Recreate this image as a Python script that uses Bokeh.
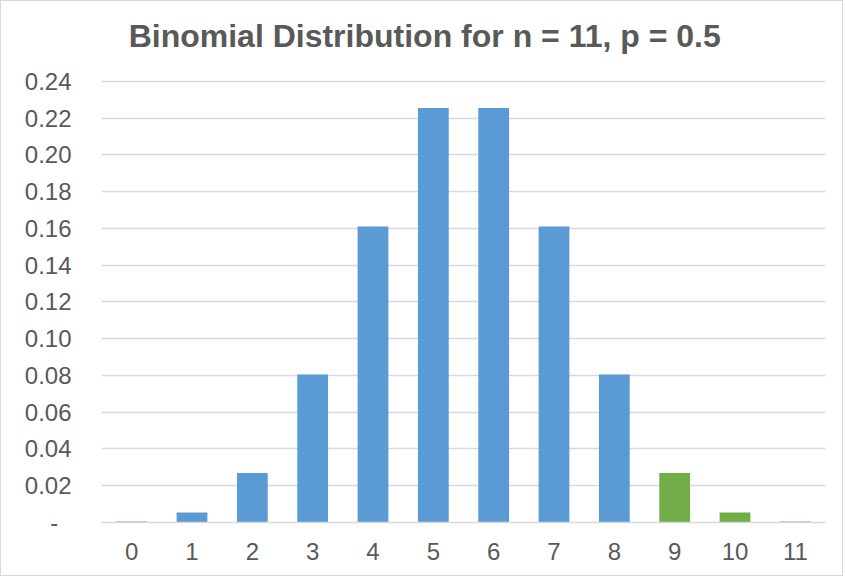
from bokeh.plotting import figure
from bokeh.models import FactorRange, Range1d, FixedTicker, CustomJSTickFormatter, ColumnDataSource, Label
from bokeh.embed import file_html
from bokeh.resources import INLINE

# data
categories = ["0", "1", "2", "3", "4", "5", "6", "7", "8", "9", "10", "11"]
probabilities = [0.0005, 0.0054, 0.0269, 0.0806, 0.1611, 0.2256,
                 0.2256, 0.1611, 0.0806, 0.0269, 0.0054, 0.0005]
groups = ["below", "below", "below", "below", "below", "below",
          "below", "below", "below", "tail", "tail", "tail"]
y_ticks = [0.0, 0.02, 0.04, 0.06, 0.08, 0.10, 0.12, 0.14, 0.16, 0.18, 0.20, 0.22, 0.24]
title_text = "Binomial Distribution for n = 11, p = 0.5"

palette = {"below": "#5B9BD5", "tail": "#70AD47"}
TEXT = "#595959"
GRID = "#D9D9D9"
FONT = "Liberation Sans"

src = ColumnDataSource(dict(
    cat=categories,
    prob=probabilities,
    color=[palette[g] for g in groups],
))

# the frame reaches up to the canvas top so that the title (a Label) sits inside it;
# gridlines stop at 0.24 because the ticker is fixed
p = figure(
    width=843, height=576,
    x_range=FactorRange(*categories, range_padding=0),
    y_range=Range1d(0, 0.2835),
    output_backend="svg", toolbar_location=None,
    min_border_left=100, min_border_right=19,
    min_border_top=0, min_border_bottom=55,
)
p.x_range.factor_padding = 0
p.styles = {"border": "1px solid #D9D9D9"}

p.vbar(x="cat", top="prob", width=0.51, color="color", source=src, line_color=None)

p.add_layout(Label(
    x=0.45, y=0.2645, text=title_text,
    text_font=FONT, text_font_size="32px", text_font_style="bold",
    text_color=TEXT, text_align="left", text_baseline="alphabetic",
))

p.outline_line_color = None
p.background_fill_color = "white"
p.border_fill_color = "white"

p.xgrid.grid_line_color = None
p.ygrid.grid_line_color = GRID
p.ygrid.grid_line_width = 1.3

p.yaxis.ticker = FixedTicker(ticks=y_ticks)
p.yaxis.formatter = CustomJSTickFormatter(
    code="return Math.abs(tick) < 1e-9 ? '-\u00a0\u00a0' : tick.toFixed(2);")
p.yaxis.axis_line_color = None
p.yaxis.major_tick_line_color = None
p.yaxis.minor_tick_line_color = None
p.yaxis.major_tick_out = 0
p.yaxis.major_label_standoff = 30
p.yaxis.major_label_text_font = FONT
p.yaxis.major_label_text_font_size = "24px"
p.yaxis.major_label_text_color = TEXT

p.xaxis.axis_line_color = GRID
p.xaxis.axis_line_width = 1.3
p.xaxis.major_tick_line_color = None
p.xaxis.minor_tick_line_color = None
p.xaxis.major_tick_out = 0
p.xaxis.major_label_standoff = 20
p.xaxis.major_label_text_font = FONT
p.xaxis.major_label_text_font_size = "24px"
p.xaxis.major_label_text_color = TEXT

open("out.html", "w").write(file_html(p, INLINE))
